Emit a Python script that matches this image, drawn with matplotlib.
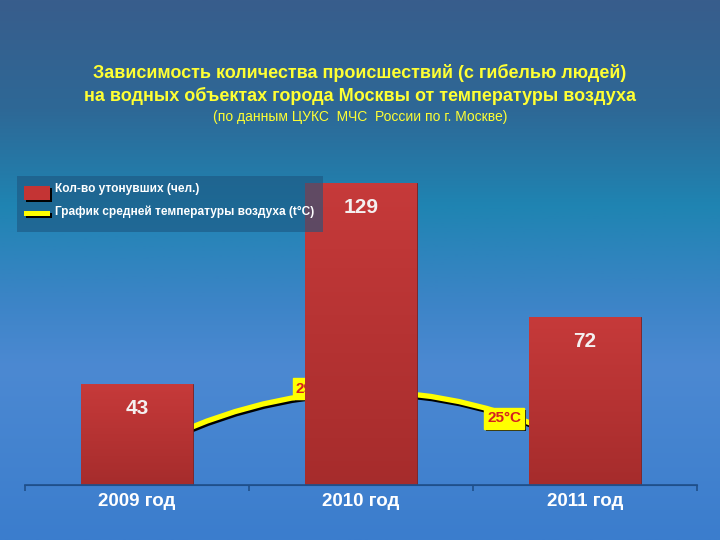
import numpy as np
import matplotlib
matplotlib.use("Agg")
import matplotlib.pyplot as plt
import matplotlib.patheffects as pe
from matplotlib.colors import LinearSegmentedColormap
from matplotlib.patches import Rectangle, PathPatch
from matplotlib.path import Path

# --------------------------------------------------
# Data
# --------------------------------------------------
years = ["2009 год", "2010 год", "2011 год"]
drowned = [43, 129, 72]
temps = [24.6, 29, 25]
temp_labels = ["24,6°C", "29°C", "25°C"]

title_lines = [
    "Зависимость количества происшествий (с гибелью людей)",
    "на водных объектах города Москвы от температуры воздуха",
]
subtitle = "(по данным ЦУКС  МЧС  России по г. Москве)"
legend_labels = ["Кол-во утонувших (чел.)", "График средней температуры воздуха (t°C)"]

plt.rcParams["font.family"] = ["Liberation Sans", "DejaVu Sans"]

fig = plt.figure(figsize=(7.2, 5.4), dpi=100)

# --------------------------------------------------
# Background gradient
# --------------------------------------------------
bg = fig.add_axes([0, 0, 1, 1], zorder=0)
bg_cmap = LinearSegmentedColormap.from_list(
    "bg",
    [(0.0, "#385d8c"), (0.2, "#2e6896"), (0.38, "#1f84b2"),
     (0.55, "#3b84c6"), (0.68, "#4c89d2"), (1.0, "#3b7dcd")],
)
bg.imshow(np.linspace(0, 1, 256).reshape(-1, 1), aspect="auto", cmap=bg_cmap,
          extent=[0, 1, 0, 1], origin="upper")
bg.set_axis_off()

# --------------------------------------------------
# Axes: temperature (behind) and counts (front)
# --------------------------------------------------
rect = [25 / 720, 1 - 485 / 540, 672 / 720, 315 / 540]
ax_t = fig.add_axes(rect, zorder=1)
ax = fig.add_axes(rect, zorder=2)
for a in (ax, ax_t):
    a.patch.set_visible(False)
    a.set_xlim(-0.5, 2.5)
    for s in a.spines.values():
        s.set_visible(False)
    a.set_yticks([])
ax_t.set_xticks([])

x = np.arange(len(years))
ax.set_ylim(0, 134.6)
ax_t.set_ylim(22.26, 45.0)

# smooth temperature line (quadratic Bezier through the three points)
ctrl = 2 * temps[1] - (temps[0] + temps[2]) / 2
curve = Path([(x[0], temps[0]), (x[1], ctrl), (x[2], temps[2])],
             [Path.MOVETO, Path.CURVE3, Path.CURVE3])
ax_t.add_patch(PathPatch(curve, facecolor="none", edgecolor="#ffff00", lw=3.8,
                         capstyle="butt",
                         path_effects=[pe.SimpleLineShadow(offset=(0.8, -1.6), shadow_color="black", alpha=1.0),
                                       pe.Normal()]))

label_offsets = [(0, 0), (-34.6, 2), (-58.3, 20.6)]
for xi, t, lab, off in zip(x, temps, temp_labels, label_offsets):
    ann = ax_t.annotate(lab, (xi, t), xytext=off, textcoords="offset points",
                        ha="center", va="center", fontsize=11, fontweight="bold", color="#d42020",
                        bbox=dict(boxstyle="square,pad=0.22", fc="#ffff00", ec="#ffff00"))
    ann.get_bbox_patch().set_path_effects(
        [pe.SimplePatchShadow(offset=(1.5, -1.5), shadow_rgbFace="#111111", alpha=1.0), pe.Normal()])

# bars with a soft vertical gradient
bar_cmap = LinearSegmentedColormap.from_list("bar", ["#c63a3a", "#a62c2c"])
bars = ax.bar(x, drowned, width=0.5, color="#bd3232", edgecolor="#7a2020", linewidth=0.6)
for b, v in zip(bars, drowned):
    im = ax.imshow(np.linspace(0, 1, 64).reshape(-1, 1), cmap=bar_cmap, aspect="auto",
                   extent=[b.get_x(), b.get_x() + b.get_width(), 0, v], origin="upper", zorder=2)
    im.set_clip_path(b)
    ax.text(b.get_x() + b.get_width() / 2, v - 10.5, str(v), ha="center", va="center",
            fontsize=15, fontweight="bold", color="#f4f0f0", zorder=3)
ax.set_xlim(-0.5, 2.5)
ax.set_ylim(0, 134.6)

# x axis
ax.axhline(0, color="#1f4f8a", lw=1.2, clip_on=False)
ax.set_xticks(x)
ax.set_xticklabels(years, fontsize=13.5, fontweight="bold", color="white")
ax.tick_params(axis="x", which="major", length=0, pad=6)
ax.set_xticks([-0.5, 0.5, 1.5, 2.5], minor=True)
ax.tick_params(axis="x", which="minor", length=4, color="#1f4f8a", width=1.2)
ax.spines["bottom"].set_visible(True)
ax.spines["bottom"].set_color("#1f4f8a")

# --------------------------------------------------
# Titles
# --------------------------------------------------
fig.text(0.5, 1 - 73 / 540, title_lines[0], ha="center", va="center",
         fontsize=13, fontweight="bold", color="#ffff33")
fig.text(0.5, 1 - 96 / 540, title_lines[1], ha="center", va="center",
         fontsize=13, fontweight="bold", color="#ffff33")
fig.text(0.5, 1 - 117 / 540, subtitle, ha="center", va="center",
         fontsize=10, color="#ffff33")

# --------------------------------------------------
# Legend box
# --------------------------------------------------
lg = fig.add_axes([0, 0, 1, 1], zorder=3)
lg.set_xlim(0, 720)
lg.set_ylim(540, 0)
lg.set_axis_off()
lg.add_patch(Rectangle((17, 176), 306, 56, facecolor="#1d5680", alpha=0.6, edgecolor="none"))
lg.add_patch(Rectangle((26, 188), 26, 14, facecolor="black"))
lg.add_patch(Rectangle((24, 186), 26, 14, facecolor="#c43434"))
lg.add_patch(Rectangle((26, 213), 26, 5, facecolor="black"))
lg.add_patch(Rectangle((24, 211), 26, 5, facecolor="#ffff00"))
lg.text(55, 189, legend_labels[0], ha="left", va="center", fontsize=8.6,
        fontweight="bold", color="white")
lg.text(55, 212, legend_labels[1], ha="left", va="center", fontsize=8.6,
        fontweight="bold", color="white")

fig.savefig("out.png", dpi=100)
